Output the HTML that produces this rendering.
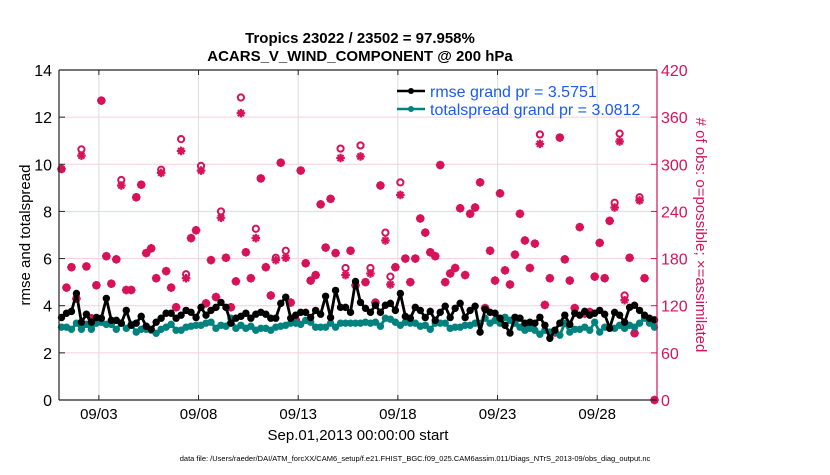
<!DOCTYPE html>
<html><head><meta charset="utf-8"><style>
body{margin:0;background:#fff;width:830px;height:470px;overflow:hidden;font-family:"Liberation Sans",sans-serif}
</style></head><body>
<svg id="chart" width="830" height="470" xmlns="http://www.w3.org/2000/svg" font-family="Liberation Sans, sans-serif">
<rect width="830" height="470" fill="#fff"/>
<g id="grid"></g>
<g id="obsmarks"></g>
<g id="lines"></g>
<g id="axes"></g>
<text x="360" y="43" text-anchor="middle" font-weight="bold" font-size="15">Tropics 23022 / 23502 = 97.958%</text>
<text x="360" y="61" text-anchor="middle" font-weight="bold" font-size="15">ACARS_V_WIND_COMPONENT @ 200 hPa</text>
<text transform="translate(30,235) rotate(-90)" text-anchor="middle" font-size="15">rmse and totalspread</text>
<text transform="translate(696,235) rotate(90)" text-anchor="middle" font-size="15" fill="#d6135a"># of obs: o=possible; ×=assimilated</text>
<text x="358" y="440" text-anchor="middle" font-size="15">Sep.01,2013 00:00:00 start</text>
<text x="415" y="461" text-anchor="middle" font-size="7.5">data file: /Users/raeder/DAI/ATM_forcXX/CAM6_setup/f.e21.FHIST_BGC.f09_025.CAM6assim.011/Diags_NTrS_2013-09/obs_diag_output.nc</text>
<g>
<line x1="397" y1="91" x2="425" y2="91" stroke="#000" stroke-width="2.5"/><circle cx="411" cy="91" r="3" fill="#000"/>
<text x="430" y="97" font-size="16" fill="#1a5cf0">rmse grand pr = 3.5751</text>
<line x1="397" y1="109" x2="425" y2="109" stroke="#00827f" stroke-width="2.5"/><circle cx="411" cy="109" r="3" fill="#00827f"/>
<text x="430" y="115" font-size="16" fill="#1a5cf0">totalspread grand pr = 3.0812</text>
</g>
</svg>
<script>
const rmse=[3.5,3.68,3.76,4.52,3.3,3.64,3.3,3.5,3.47,4.31,3.38,3.38,3.26,3.8,3.17,3.26,3.55,3.13,3.0,3.3,3.47,3.68,3.68,3.47,3.6,3.8,3.72,3.5,3.93,3.6,3.8,3.93,4.14,3.93,3.26,3.47,3.55,3.68,3.47,3.64,3.72,3.64,3.47,3.47,4.1,4.36,3.47,3.6,3.72,3.72,3.5,3.8,3.64,4.4,3.5,4.65,3.93,3.93,3.72,5.03,4.14,3.89,3.72,4.02,3.72,4.02,4.1,3.8,4.52,3.55,3.47,3.93,3.8,3.5,3.76,3.38,3.72,3.98,3.5,3.89,4.1,3.5,3.8,3.98,2.88,3.85,3.72,3.68,3.47,3.17,2.84,3.51,3.47,3.26,3.3,3.26,3.51,3.17,2.62,2.96,3.26,3.6,3.21,3.68,3.6,3.76,3.6,3.68,3.8,3.64,3.04,3.72,3.6,3.3,3.93,4.02,3.8,3.6,3.47,3.4];
const spread=[3.09,3.09,3.0,3.26,3.0,3.21,3.0,3.26,3.3,3.21,3.21,3.0,3.26,3.04,3.21,2.88,3.0,3.0,2.96,2.83,3.0,3.09,3.21,2.96,2.96,3.09,3.13,3.17,3.17,3.26,3.3,3.04,3.17,3.13,3.47,3.04,3.17,3.04,3.13,2.96,3.04,3.04,2.96,3.09,3.13,3.17,3.26,3.26,3.21,3.38,3.3,3.09,3.09,3.09,3.26,3.09,3.26,3.26,3.26,3.26,3.26,3.3,3.26,3.3,3.13,3.47,3.43,3.3,3.17,3.3,3.26,3.26,3.13,3.17,3.0,3.26,3.26,3.26,3.04,3.09,3.09,3.17,3.17,3.26,3.26,3.47,3.26,3.38,3.26,3.51,3.38,3.26,3.09,2.96,3.04,2.96,2.79,2.96,2.88,2.88,2.75,3.26,2.88,3.0,3.0,3.09,2.96,3.3,2.88,3.09,3.09,3.04,3.17,3.04,3.17,3.09,3.26,3.47,3.26,3.09];
const assimilated=[294,143,169,129,311,170,104,146,381,183,148,179,273,140,140,258,274,187,193,155,289,164,143,118,317,155,206,216,292,123,178,131,232,181,118,151,365,188,155,206,282,169,133,178,302,181,124,102,292,174,152,159,249,194,256,187,308,159,190,146,310,150,161,124,273,203,147,169,261,180,150,180,231,213,188,183,299,150,161,168,244,159,237,245,277,117,190,152,263,165,147,185,237,203,168,199,326,121,155,86,334,179,152,117,220,110,112,157,200,155,228,245,329,127,181,85,254,155,102,0];
const possible=[294,143,169,129,319,170,104,146,381,183,148,179,280,140,140,258,274,187,193,155,293,164,143,118,332,160,206,216,298,123,178,131,240,181,118,151,385,188,155,218,282,169,133,181,302,190,124,102,292,174,152,159,249,194,256,187,320,168,190,146,324,150,168,124,273,213,157,169,277,180,150,180,231,213,188,183,299,150,161,168,244,159,237,245,277,117,190,152,263,165,147,185,237,203,168,199,338,121,155,86,334,179,152,117,220,110,112,157,200,155,228,251,339,133,181,85,258,155,102,0];
const yTicks=[0,2,4,6,8,10,12,14];
const y2Ticks=[0,60,120,180,240,300,360,420];
const xTickDays=[2,7,12,17,22,27];
const xTickLabels=["09/03","09/08","09/13","09/18","09/23","09/28"];

const L=59,R=657,T=70,B=400,NDAYS=30;
const NS='http://www.w3.org/2000/svg';
const xDay=d=>L+d*(R-L)/NDAYS;
const xIdx=i=>xDay((i+0.5)*0.25);
const yL=v=>B-v*(B-T)/14;
const yR=v=>B-v*(B-T)/420;
function mk(tag,attrs,parent){const e=document.createElementNS(NS,tag);for(const k in attrs)e.setAttribute(k,attrs[k]);parent.appendChild(e);return e;}
const grid=document.getElementById('grid'),axes=document.getElementById('axes'),lines=document.getElementById('lines'),obs=document.getElementById('obsmarks');
const MAG='#d6135a',TEAL='#00827f';
xTickDays.forEach((d,k)=>{
  const x=xDay(d);
  const g=mk('line',{x1:x,x2:x,y1:T,y2:B,stroke:'#dcdcdc','stroke-width':1},grid);
  
  
  mk('line',{x1:x,x2:x,y1:B,y2:B-5,stroke:'#222'},axes);
  mk('line',{x1:x,x2:x,y1:T,y2:T+5,stroke:'#222'},axes);
  const t=mk('text',{x:x,y:B+19,'text-anchor':'middle','font-size':15},axes);
  t.textContent=xTickLabels[k];
  
  
});
y2Ticks.forEach(v=>{
  const y=yR(v);
  if(v>0&&v<420){const g=mk('line',{x1:L,x2:R,y1:y,y2:y,stroke:'#f5cfdc','stroke-width':1},grid);
  
  }
  mk('line',{x1:R,x2:R-6,y1:y,y2:y,stroke:MAG},axes);
  const t=mk('text',{x:R+4,y:y+6,'font-size':16,fill:MAG},axes);
  t.textContent=v;
  
  
});
yTicks.forEach(v=>{
  const y=yL(v);
  mk('line',{x1:L,x2:L+6,y1:y,y2:y,stroke:'#222'},axes);
  const t=mk('text',{x:L-7,y:y+6,'text-anchor':'end','font-size':16},axes);
  t.textContent=v;
  
  
});
mk('line',{x1:L,x2:R,y1:T,y2:T,stroke:'#222','stroke-width':1.2},axes);
mk('line',{x1:L,x2:R,y1:B,y2:B,stroke:'#222','stroke-width':1.2},axes);
mk('line',{x1:L,x2:L,y1:T,y2:B,stroke:'#222','stroke-width':1.2},axes);
mk('line',{x1:R,x2:R,y1:T,y2:B,stroke:MAG,'stroke-width':1.2},axes);

possible.forEach((v,i)=>{
  const x=xIdx(i),y=yR(v);
  const c=mk('circle',{cx:x,cy:y,r:3.1,fill:'none',stroke:MAG,'stroke-width':2},obs);
  
  
});
assimilated.forEach((v,i)=>{
  const x=xIdx(i),y=yR(v),s=4.3;
  const g=mk('g',{stroke:MAG,'stroke-width':2.2},obs);
  
  
  mk('line',{x1:x-s,x2:x+s,y1:y,y2:y},g);
  mk('line',{x1:x,x2:x,y1:y-s,y2:y+s},g);
  mk('line',{x1:x-s*0.7,x2:x+s*0.7,y1:y-s*0.7,y2:y+s*0.7},g);
  mk('line',{x1:x-s*0.7,x2:x+s*0.7,y1:y+s*0.7,y2:y-s*0.7},g);
});
function series(vals,color,name){
  const p=mk('polyline',{points:vals.map((v,i)=>xIdx(i)+','+yL(v)).join(' '),fill:'none',stroke:color,'stroke-width':2.8,'stroke-linejoin':'round'},lines);
  
  
  vals.forEach((v,i)=>{
    const c=mk('circle',{cx:xIdx(i),cy:yL(v),r:3.7,fill:color},lines);
    
    
  });
}
series(spread,TEAL,'totalspread');
series(rmse,'#000','rmse');
</script>
</body></html>
